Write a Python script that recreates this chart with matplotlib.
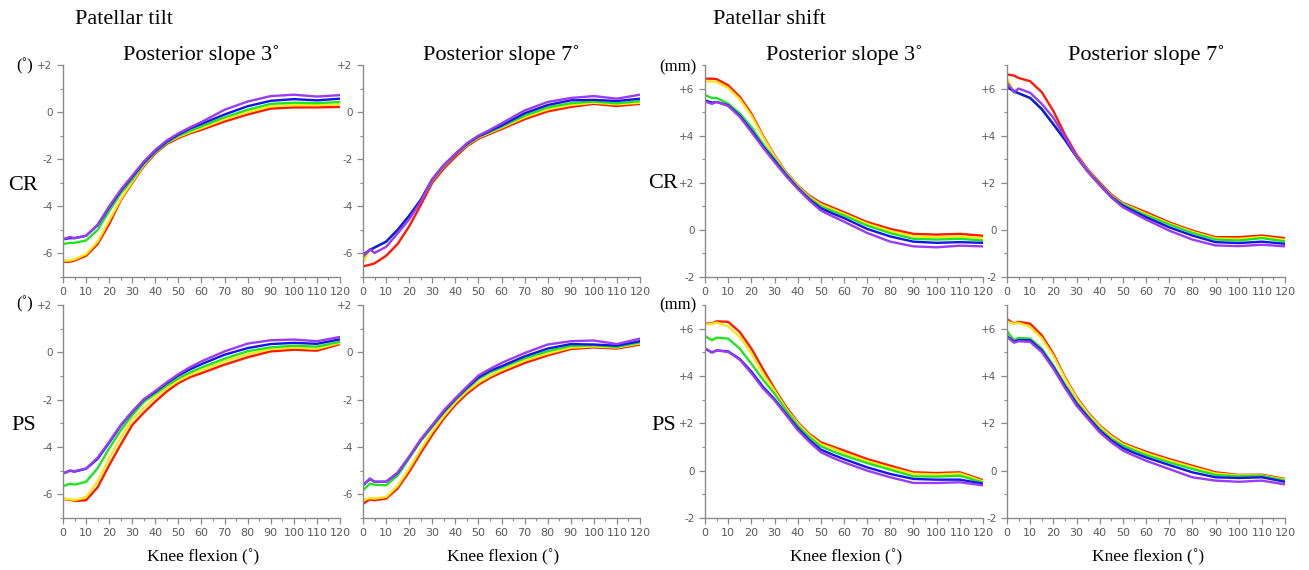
import matplotlib
matplotlib.use("Agg")
import matplotlib.pyplot as plt
from matplotlib.ticker import MultipleLocator, FuncFormatter

# ---------------- data ----------------
knee_flexion = [0, 3, 5, 10, 15, 20, 25, 30, 35, 40, 45, 50, 55, 60, 70, 80, 90, 100, 110, 120]
series_colors = ["#ff1a00", "#ffe81a", "#1ee61e", "#1414f0", "#9a3cf5"]

# Patellar tilt, CR, posterior slope 3
tilt_cr_3_red = [-6.35, -6.35, -6.3, -6.1, -5.6, -4.75, -3.75, -3.0, -2.3, -1.75, -1.35, -1.1, -0.9, -0.75, -0.4, -0.1, 0.15, 0.2, 0.2, 0.22]
tilt_cr_3_yellow = [-6.3, -6.3, -6.25, -6.03, -5.5, -4.6, -3.7, -2.95, -2.25, -1.7, -1.3, -1.05, -0.85, -0.68, -0.3, 0.0, 0.25, 0.3, 0.3, 0.33]
tilt_cr_3_green = [-5.6, -5.55, -5.55, -5.45, -5.0, -4.2, -3.45, -2.85, -2.2, -1.7, -1.3, -1.0, -0.8, -0.6, -0.22, 0.1, 0.35, 0.4, 0.38, 0.43]
tilt_cr_3_blue = [-5.4, -5.35, -5.35, -5.25, -4.8, -4.05, -3.35, -2.75, -2.15, -1.65, -1.25, -0.95, -0.7, -0.5, -0.1, 0.25, 0.48, 0.55, 0.5, 0.57]
tilt_cr_3_purple = [-5.4, -5.3, -5.35, -5.25, -4.78, -4.0, -3.3, -2.7, -2.1, -1.6, -1.2, -0.9, -0.65, -0.42, 0.1, 0.45, 0.68, 0.74, 0.66, 0.72]

# Patellar tilt, CR, posterior slope 7
tilt_cr_7_red = [-6.55, -6.48, -6.42, -6.1, -5.6, -4.85, -3.95, -3.0, -2.4, -1.9, -1.45, -1.13, -0.92, -0.72, -0.3, 0.03, 0.22, 0.35, 0.26, 0.35]
tilt_cr_7_yellow = [-6.4, -5.85, -5.75, -5.5, -5.0, -4.4, -3.75, -2.9, -2.3, -1.8, -1.4, -1.08, -0.87, -0.66, -0.22, 0.12, 0.3, 0.4, 0.33, 0.4]
tilt_cr_7_green = [-6.1, -5.85, -5.75, -5.5, -5.0, -4.4, -3.75, -2.88, -2.28, -1.8, -1.38, -1.05, -0.84, -0.62, -0.15, 0.2, 0.38, 0.45, 0.37, 0.47]
tilt_cr_7_blue = [-6.05, -5.85, -5.75, -5.5, -5.0, -4.4, -3.72, -2.85, -2.25, -1.78, -1.35, -1.03, -0.8, -0.57, -0.05, 0.3, 0.5, 0.52, 0.47, 0.57]
tilt_cr_7_purple = [-6.15, -5.82, -5.98, -5.72, -5.15, -4.55, -3.8, -2.85, -2.25, -1.78, -1.32, -1.0, -0.75, -0.48, 0.07, 0.43, 0.6, 0.68, 0.57, 0.74]

# Patellar tilt, PS, posterior slope 3
tilt_ps_3_red = [-6.2, -6.22, -6.28, -6.25, -5.7, -4.77, -3.9, -3.07, -2.55, -2.08, -1.65, -1.3, -1.05, -0.88, -0.52, -0.21, 0.04, 0.11, 0.07, 0.35]
tilt_ps_3_yellow = [-6.18, -6.2, -6.25, -6.11, -5.45, -4.48, -3.6, -2.85, -2.35, -1.9, -1.5, -1.2, -0.95, -0.75, -0.38, -0.08, 0.14, 0.2, 0.15, 0.4]
tilt_ps_3_green = [-5.66, -5.55, -5.59, -5.47, -4.9, -4.06, -3.3, -2.65, -2.1, -1.75, -1.4, -1.1, -0.85, -0.64, -0.27, 0.05, 0.21, 0.28, 0.24, 0.45]
tilt_ps_3_blue = [-5.12, -5.0, -5.04, -4.92, -4.5, -3.82, -3.1, -2.52, -2.0, -1.67, -1.3, -0.98, -0.72, -0.5, -0.1, 0.18, 0.35, 0.4, 0.36, 0.55]
tilt_ps_3_purple = [-5.12, -5.0, -5.02, -4.91, -4.45, -3.78, -3.07, -2.5, -1.98, -1.63, -1.26, -0.92, -0.63, -0.38, 0.04, 0.37, 0.51, 0.54, 0.47, 0.65]

# Patellar tilt, PS, posterior slope 7
tilt_ps_7_red = [-6.4, -6.21, -6.25, -6.18, -5.75, -5.05, -4.25, -3.49, -2.8, -2.22, -1.75, -1.37, -1.08, -0.85, -0.45, -0.13, 0.14, 0.21, 0.16, 0.33]
tilt_ps_7_yellow = [-6.25, -6.15, -6.18, -6.11, -5.65, -4.91, -4.1, -3.35, -2.7, -2.12, -1.65, -1.28, -1.0, -0.76, -0.35, -0.05, 0.2, 0.25, 0.2, 0.38]
tilt_ps_7_green = [-5.83, -5.55, -5.59, -5.62, -5.2, -4.48, -3.75, -3.15, -2.55, -2.02, -1.55, -1.13, -0.85, -0.65, -0.25, 0.05, 0.27, 0.3, 0.23, 0.42]
tilt_ps_7_blue = [-5.62, -5.35, -5.47, -5.47, -5.1, -4.42, -3.7, -3.1, -2.5, -1.97, -1.5, -1.06, -0.78, -0.59, -0.17, 0.16, 0.35, 0.33, 0.28, 0.47]
tilt_ps_7_purple = [-5.62, -5.33, -5.47, -5.47, -5.08, -4.41, -3.68, -3.07, -2.45, -1.94, -1.45, -0.98, -0.7, -0.45, -0.03, 0.33, 0.47, 0.5, 0.35, 0.58]

# Patellar shift, CR, posterior slope 3
shift_cr_3_red = [6.42, 6.42, 6.4, 6.14, 5.65, 4.94, 4.0, 3.16, 2.45, 1.89, 1.45, 1.15, 0.95, 0.75, 0.33, 0.04, -0.17, -0.2, -0.17, -0.25]
shift_cr_3_yellow = [6.3, 6.3, 6.28, 6.03, 5.55, 4.85, 3.95, 3.12, 2.42, 1.86, 1.4, 1.08, 0.88, 0.68, 0.26, -0.05, -0.27, -0.31, -0.28, -0.35]
shift_cr_3_green = [5.72, 5.6, 5.6, 5.36, 4.95, 4.37, 3.65, 3.02, 2.38, 1.82, 1.35, 1.0, 0.8, 0.61, 0.18, -0.14, -0.38, -0.41, -0.38, -0.45]
shift_cr_3_blue = [5.5, 5.4, 5.43, 5.29, 4.85, 4.23, 3.55, 2.95, 2.33, 1.78, 1.3, 0.92, 0.7, 0.5, 0.04, -0.28, -0.5, -0.55, -0.52, -0.55]
shift_cr_3_purple = [5.45, 5.35, 5.43, 5.26, 4.8, 4.16, 3.5, 2.88, 2.28, 1.74, 1.25, 0.82, 0.58, 0.35, -0.13, -0.5, -0.7, -0.74, -0.67, -0.7]

# Patellar shift, CR, posterior slope 7
shift_cr_7_red = [6.6, 6.55, 6.45, 6.31, 5.85, 5.05, 4.05, 3.2, 2.55, 2.01, 1.5, 1.14, 0.95, 0.75, 0.32, -0.03, -0.31, -0.31, -0.24, -0.35]
shift_cr_7_yellow = [6.45, 5.85, 5.8, 5.6, 5.15, 4.5, 3.85, 3.12, 2.5, 1.95, 1.45, 1.1, 0.9, 0.68, 0.27, -0.08, -0.36, -0.38, -0.3, -0.42]
shift_cr_7_green = [6.1, 5.85, 5.8, 5.6, 5.15, 4.5, 3.85, 3.12, 2.48, 1.94, 1.43, 1.08, 0.85, 0.62, 0.23, -0.13, -0.41, -0.45, -0.35, -0.49]
shift_cr_7_blue = [6.05, 5.9, 5.8, 5.6, 5.12, 4.48, 3.82, 3.1, 2.46, 1.92, 1.4, 1.03, 0.78, 0.54, 0.11, -0.24, -0.52, -0.56, -0.5, -0.59]
shift_cr_7_purple = [6.25, 5.85, 6.0, 5.82, 5.35, 4.76, 3.95, 3.12, 2.46, 1.9, 1.38, 0.96, 0.7, 0.44, -0.03, -0.41, -0.66, -0.69, -0.63, -0.7]

# Patellar shift, PS, posterior slope 3
shift_ps_3_red = [6.21, 6.22, 6.31, 6.29, 5.86, 5.16, 4.3, 3.46, 2.7, 2.05, 1.55, 1.2, 1.02, 0.85, 0.49, 0.21, -0.07, -0.1, -0.07, -0.4]
shift_ps_3_yellow = [6.17, 6.2, 6.26, 6.1, 5.65, 4.95, 4.1, 3.38, 2.62, 2.0, 1.5, 1.12, 0.95, 0.75, 0.4, 0.12, -0.13, -0.16, -0.12, -0.45]
shift_ps_3_green = [5.69, 5.51, 5.62, 5.58, 5.16, 4.52, 3.85, 3.25, 2.55, 1.91, 1.42, 1.03, 0.82, 0.64, 0.32, 0.04, -0.24, -0.25, -0.21, -0.5]
shift_ps_3_blue = [5.16, 5.0, 5.08, 5.04, 4.72, 4.19, 3.55, 3.02, 2.4, 1.8, 1.3, 0.89, 0.68, 0.49, 0.14, -0.14, -0.35, -0.38, -0.38, -0.55]
shift_ps_3_purple = [5.16, 4.99, 5.08, 5.02, 4.69, 4.12, 3.48, 2.97, 2.35, 1.72, 1.22, 0.78, 0.55, 0.35, 0.0, -0.28, -0.52, -0.52, -0.49, -0.62]

# Patellar shift, PS, posterior slope 7
shift_ps_7_red = [6.4, 6.21, 6.29, 6.21, 5.72, 4.94, 3.95, 3.11, 2.45, 1.91, 1.5, 1.17, 0.98, 0.8, 0.49, 0.21, -0.07, -0.18, -0.17, -0.35]
shift_ps_7_yellow = [6.31, 6.2, 6.25, 6.07, 5.6, 4.85, 3.9, 3.06, 2.4, 1.87, 1.45, 1.12, 0.93, 0.74, 0.43, 0.15, -0.12, -0.2, -0.2, -0.38]
shift_ps_7_green = [5.9, 5.51, 5.61, 5.58, 5.16, 4.45, 3.65, 2.9, 2.3, 1.77, 1.35, 1.06, 0.85, 0.66, 0.35, 0.07, -0.18, -0.24, -0.22, -0.42]
shift_ps_7_blue = [5.69, 5.45, 5.52, 5.51, 5.08, 4.38, 3.58, 2.83, 2.25, 1.7, 1.28, 0.96, 0.75, 0.56, 0.24, -0.07, -0.28, -0.31, -0.28, -0.47]
shift_ps_7_purple = [5.65, 5.41, 5.47, 5.44, 5.01, 4.31, 3.5, 2.75, 2.18, 1.62, 1.2, 0.85, 0.63, 0.42, 0.07, -0.28, -0.42, -0.47, -0.42, -0.58]

panel_titles = ["Posterior slope 3˚", "Posterior slope 7˚", "Posterior slope 3˚", "Posterior slope 7˚"]
tilt_yticks = [2, 0, -2, -4, -6]
shift_yticks = [6, 4, 2, 0, -2]
xticks = [0, 10, 20, 30, 40, 50, 60, 70, 80, 90, 100, 110, 120]

# ---------------- figure ----------------
W, H = 1309, 570
fig = plt.figure(figsize=(W / 100, H / 100), dpi=100)

serif = ["Liberation Serif", "DejaVu Serif"]
tick_font = "DejaVu Sans"
axis_gray = "#8a8a8a"
label_gray = "#5a5a5a"

col_x = [(63, 340), (363, 640), (705, 983), (1007, 1285)]
row_y = [(65, 277), (305, 518)]

panels = [
    [[tilt_cr_3_red, tilt_cr_3_yellow, tilt_cr_3_green, tilt_cr_3_blue, tilt_cr_3_purple],
     [tilt_cr_7_red, tilt_cr_7_yellow, tilt_cr_7_green, tilt_cr_7_blue, tilt_cr_7_purple],
     [shift_cr_3_red, shift_cr_3_yellow, shift_cr_3_green, shift_cr_3_blue, shift_cr_3_purple],
     [shift_cr_7_red, shift_cr_7_yellow, shift_cr_7_green, shift_cr_7_blue, shift_cr_7_purple]],
    [[tilt_ps_3_red, tilt_ps_3_yellow, tilt_ps_3_green, tilt_ps_3_blue, tilt_ps_3_purple],
     [tilt_ps_7_red, tilt_ps_7_yellow, tilt_ps_7_green, tilt_ps_7_blue, tilt_ps_7_purple],
     [shift_ps_3_red, shift_ps_3_yellow, shift_ps_3_green, shift_ps_3_blue, shift_ps_3_purple],
     [shift_ps_7_red, shift_ps_7_yellow, shift_ps_7_green, shift_ps_7_blue, shift_ps_7_purple]],
]


def fmt(v, pos):
    v = int(round(v))
    if v > 0:
        return "+%d" % v
    return "%d" % v


for r, (yt, yb) in enumerate(row_y):
    for c, (xl, xr) in enumerate(col_x):
        ax = fig.add_axes([xl / W, 1 - yb / H, (xr - xl) / W, (yb - yt) / H])
        for vals, col in zip(panels[r][c], series_colors):
            ax.plot(knee_flexion, vals, color=col, lw=1.7, solid_joinstyle="round")
        ax.set_xlim(0, 120)
        if c < 2:
            ax.set_ylim(-7, 2)
            ax.set_yticks(tilt_yticks)
        else:
            ax.set_ylim(-2, 7)
            ax.set_yticks(shift_yticks)
        ax.set_xticks(xticks)
        ax.xaxis.set_minor_locator(MultipleLocator(5))
        ax.yaxis.set_minor_locator(MultipleLocator(1))
        ax.yaxis.set_major_formatter(FuncFormatter(fmt))
        for s in ["top", "right"]:
            ax.spines[s].set_visible(False)
        for s in ["left", "bottom"]:
            ax.spines[s].set_color(axis_gray)
            ax.spines[s].set_linewidth(1.0)
        ax.tick_params(which="major", direction="out", length=4, width=0.9,
                       color=axis_gray, labelcolor=label_gray, labelsize=8, pad=3.5)
        ax.tick_params(axis="y", which="major", labelsize=7.5)
        ax.tick_params(which="minor", direction="out", length=2.5, width=0.8, color=axis_gray)
        for lab in ax.get_xticklabels() + ax.get_yticklabels():
            lab.set_fontfamily(tick_font)
        if r == 0:
            fig.text((xl + xr) / 2 / W, 1 - 55 / H, panel_titles[c], family=serif,
                     fontsize=16, ha="center", va="center")
        else:
            fig.text((xl + xr) / 2 / W + 2 / W, 1 - 557 / H, "Knee flexion (˚)", family=serif,
                     fontsize=12.5, ha="center", va="center")

# group titles
fig.text(75 / W, 1 - 19 / H, "Patellar tilt", family=serif, fontsize=16, ha="left", va="center")
fig.text(713 / W, 1 - 19 / H, "Patellar shift", family=serif, fontsize=16, ha="left", va="center")

# unit labels
fig.text(25 / W, 1 - 66 / H, "(˚)", family=serif, fontsize=12, ha="center", va="center")
fig.text(25 / W, 1 - 304 / H, "(˚)", family=serif, fontsize=12, ha="center", va="center")
fig.text(678 / W, 1 - 67 / H, "(mm)", family=serif, fontsize=12, ha="center", va="center")
fig.text(678 / W, 1 - 305 / H, "(mm)", family=serif, fontsize=12, ha="center", va="center")

# row labels
fig.text(23 / W, 1 - 185 / H, "CR", family=serif, fontsize=16, ha="center", va="center")
fig.text(24 / W, 1 - 425 / H, "PS", family=serif, fontsize=16, ha="center", va="center")
fig.text(663 / W, 1 - 183 / H, "CR", family=serif, fontsize=16, ha="center", va="center")
fig.text(664 / W, 1 - 425 / H, "PS", family=serif, fontsize=16, ha="center", va="center")

fig.savefig("out.png", dpi=100, facecolor="white")
